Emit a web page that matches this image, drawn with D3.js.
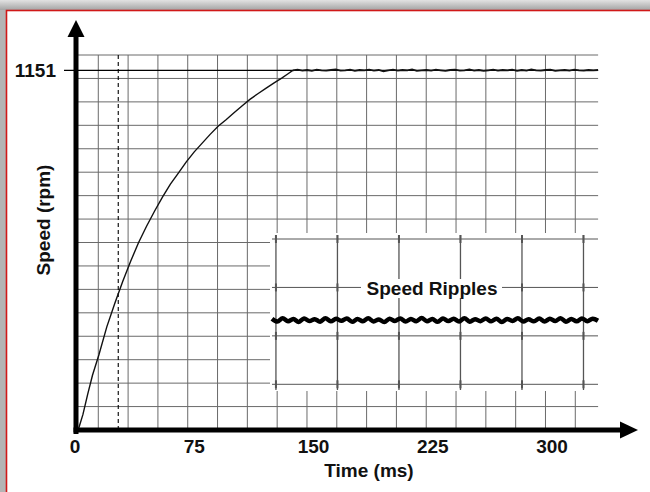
<!DOCTYPE html>
<html>
<head>
<meta charset="utf-8">
<script src="https://cdn.jsdelivr.net/npm/d3@7"></script>
<style>
  body { margin: 0; background: #bdbdbd; }
  text { font-family: "Liberation Sans", Arial, sans-serif; fill: #111; }
</style>
</head>
<body>
<div id="chart"></div>
<script>
// speed step response
const riseTime  = [2, 5, 8, 11, 15, 20, 25, 30, 35, 40, 45, 50, 55, 60, 65, 70, 75, 80, 85, 90, 95, 100, 105, 110, 115, 120, 125, 130, 134, 137];
const riseSpeed = [0, 50, 115, 175, 240, 330, 405, 475, 540, 600, 652, 700, 745, 787, 822, 858, 890, 918, 946, 972, 993, 1015, 1037, 1058, 1076, 1093, 1110, 1126, 1140, 1151];

// steady state after 137 ms up to 329 ms
const steadyStart = 137, steadyEnd = 329;
const steadySpeed = [1151, 1153, 1150, 1152, 1149, 1153, 1151, 1150, 1152, 1154, 1150, 1151, 1153, 1149, 1152, 1151,
                     1153, 1150, 1152, 1148, 1151, 1153, 1150, 1152, 1151, 1154, 1149, 1151, 1152, 1150, 1153, 1151,
                     1149, 1152, 1153, 1150, 1151, 1154, 1150, 1152, 1149, 1151, 1153, 1150, 1152, 1151, 1153, 1149,
                     1152, 1150, 1154, 1151, 1150, 1152, 1153, 1149, 1151, 1152, 1150, 1153, 1151, 1150, 1152, 1151, 1152];

// zoomed ripple trace (inset)
const rippleSpeed = [1151.42, 1151.18, 1151.45, 1151.20, 1151.40, 1151.15, 1151.44, 1151.22, 1151.38, 1151.17,
                     1151.46, 1151.20, 1151.41, 1151.24, 1151.43, 1151.16, 1151.39, 1151.20, 1151.45, 1151.19,
                     1151.36, 1151.14, 1151.42, 1151.23, 1151.44, 1151.18, 1151.40, 1151.21, 1151.47, 1151.20,
                     1151.39, 1151.16, 1151.43, 1151.22, 1151.41, 1151.19, 1151.46, 1151.17, 1151.38, 1151.21,
                     1151.44, 1151.20, 1151.42, 1151.15, 1151.40, 1151.23, 1151.45, 1151.18, 1151.37, 1151.20,
                     1151.43, 1151.19, 1151.41, 1151.22, 1151.46, 1151.17, 1151.39, 1151.20, 1151.44, 1151.21,
                     1151.42, 1151.25];

const xTicks = [0, 75, 150, 225, 300];
const yMark = 1151;
const markerTime = 27.2;   // dashed cursor

const width = 650, height = 492;

let svg = d3.select("#chart")
    .append("svg")
    .attr("width", width)
    .attr("height", height);

// window frame with shadow
let defs = svg.append("defs");
let grad = defs.append("linearGradient").attr("id", "topShade").attr("x1", 0).attr("y1", 0).attr("x2", 0).attr("y2", 1);
grad.append("stop").attr("offset", "0%").attr("stop-color", "#e2e2e2");
grad.append("stop").attr("offset", "100%").attr("stop-color", "#a4a4a4");
svg.append("rect").attr("x", 0).attr("y", 0).attr("width", width).attr("height", 10).attr("fill", "url(#topShade)");
svg.append("rect").attr("x", 0).attr("y", 10).attr("width", 6).attr("height", height).attr("fill", "#b4b4b4");
svg.append("rect")
    .attr("x", 6.5).attr("y", 10.5)
    .attr("width", width).attr("height", height)
    .attr("fill", "white")
    .attr("stroke", "#d01818")
    .attr("stroke-width", 1.6);

let x = d3.scaleLinear().domain([0, 300]).range([75, 552]);
let y = d3.scaleLinear().domain([0, 1200]).range([430, 55]);
const xEnd = 329;

let grid = svg.append("g").attr("stroke", "#6a6a6a").attr("stroke-width", 1);

// main grid
let gridX = d3.range(17).map(k => 14.65 + 18.75 * k);
let gridY = d3.range(1, 17).map(k => 75 * k);
grid.selectAll(".gx").data(gridX).enter().append("line")
    .attr("x1", d => x(d)).attr("x2", d => x(d))
    .attr("y1", y(1200)).attr("y2", y(0));
grid.selectAll(".gy").data(gridY).enter().append("line")
    .attr("x1", x(0)).attr("x2", x(xEnd))
    .attr("y1", d => y(d)).attr("y2", d => y(d));

// inset panel (speed ripples)
const inset = {left: 270, right: 600, top: 233, bottom: 391};
svg.append("rect")
    .attr("x", inset.left).attr("y", inset.top)
    .attr("width", inset.right - inset.left).attr("height", inset.bottom - inset.top)
    .attr("fill", "white");

let ix = d3.scaleLinear().domain([0, 26.5]).range([272, 598]);
let iy = d3.scaleLinear().domain([1146, 1158]).range([384.3, 239]);
let insetGridX = d3.range(6).map(k => 0.32 + 5 * k);
let insetGridY = [1146, 1150, 1154, 1158];

let ig = svg.append("g").attr("stroke", "#555");
ig.selectAll(".ix").data(insetGridX).enter().append("line")
    .attr("x1", d => ix(d)).attr("x2", d => ix(d))
    .attr("y1", inset.top + 2).attr("y2", inset.bottom - 1)
    .attr("stroke-width", 1.3);
ig.selectAll(".iy").data(insetGridY).enter().append("line")
    .attr("x1", 272).attr("x2", 598)
    .attr("y1", d => iy(d)).attr("y2", d => iy(d))
    .attr("stroke-width", 1);
// little crosses where the inset grid meets
insetGridX.forEach(function(gx) {
    insetGridY.forEach(function(gy) {
        ig.append("line")
            .attr("x1", ix(gx)).attr("x2", ix(gx))
            .attr("y1", iy(gy) - 4).attr("y2", iy(gy) + 4)
            .attr("stroke-width", 2);
    });
});

// label on the grid line
let lbl = svg.append("g");
lbl.append("rect")
    .attr("x", 361).attr("y", 279).attr("width", 141).attr("height", 19)
    .attr("fill", "white");
lbl.append("text")
    .attr("x", 432).attr("y", 295)
    .style("text-anchor", "middle")
    .style("font-size", "19px")
    .style("font-weight", "bold")
    .text("Speed Ripples");

let rippleTime = rippleSpeed.map((d, i) => i * 26.5 / (rippleSpeed.length - 1));
svg.append("path")
    .datum(rippleSpeed)
    .attr("fill", "none")
    .attr("stroke", "#000")
    .attr("stroke-width", 4.5)
    .attr("stroke-linejoin", "round")
    .attr("d", d3.line()
        .x((d, i) => ix(rippleTime[i]))
        .y(d => iy(d))
        .curve(d3.curveCatmullRom));

// 1151 reference line
svg.append("line")
    .attr("x1", 64).attr("x2", x(xEnd))
    .attr("y1", y(yMark)).attr("y2", y(yMark))
    .attr("stroke", "#000").attr("stroke-width", 1.3);

// dashed cursor
svg.append("line")
    .attr("x1", x(markerTime)).attr("x2", x(markerTime))
    .attr("y1", y(1200)).attr("y2", y(0))
    .attr("stroke", "#000").attr("stroke-width", 1.1)
    .attr("stroke-dasharray", "4,3");

// speed curve
let speed = riseTime.map((t, i) => ({t: t, v: riseSpeed[i]}));
let step = (steadyEnd - steadyStart) / (steadySpeed.length - 1);
steadySpeed.forEach(function(v, i) { if (i > 0) speed.push({t: steadyStart + i * step, v: v}); });

svg.append("path")
    .datum(speed.filter(d => d.t <= steadyStart))
    .attr("fill", "none")
    .attr("stroke", "#111")
    .attr("stroke-width", 1.4)
    .attr("d", d3.line().x(d => x(d.t)).y(d => y(d.v)));

svg.append("path")
    .datum(speed.filter(d => d.t >= steadyStart))
    .attr("fill", "none")
    .attr("stroke", "#111")
    .attr("stroke-width", 1.8)
    .attr("d", d3.line().x(d => x(d.t)).y(d => y(d.v)));

// axes with arrow heads
let axes = svg.append("g").attr("fill", "#000");
axes.append("rect").attr("x", 73.5).attr("y", 34).attr("width", 5).attr("height", 400);
axes.append("path").attr("d", `M76,20 L84.5,37 L67.5,37 Z`);
axes.append("rect").attr("x", 73.5).attr("y", 427.5).attr("width", 548).attr("height", 5);
axes.append("path").attr("d", `M638,430 L620,421.5 L620,438.5 Z`);

// tick labels
svg.selectAll(".xt").data(xTicks).enter().append("text")
    .attr("x", d => x(d)).attr("y", 453)
    .style("text-anchor", "middle")
    .style("font-size", "19px")
    .style("font-weight", "bold")
    .text(d => d);

svg.append("text")
    .attr("x", 56).attr("y", y(yMark))
    .attr("dy", "0.36em")
    .style("text-anchor", "end")
    .style("font-size", "19px")
    .style("font-weight", "bold")
    .text(yMark);

// axis titles
svg.append("text")
    .attr("x", 369).attr("y", 477)
    .style("text-anchor", "middle")
    .style("font-size", "19px")
    .style("font-weight", "bold")
    .text("Time (ms)");

svg.append("text")
    .attr("transform", "translate(50, 220) rotate(-90)")
    .style("text-anchor", "middle")
    .style("font-size", "19px")
    .style("font-weight", "bold")
    .text("Speed (rpm)");
</script>
</body>
</html>
